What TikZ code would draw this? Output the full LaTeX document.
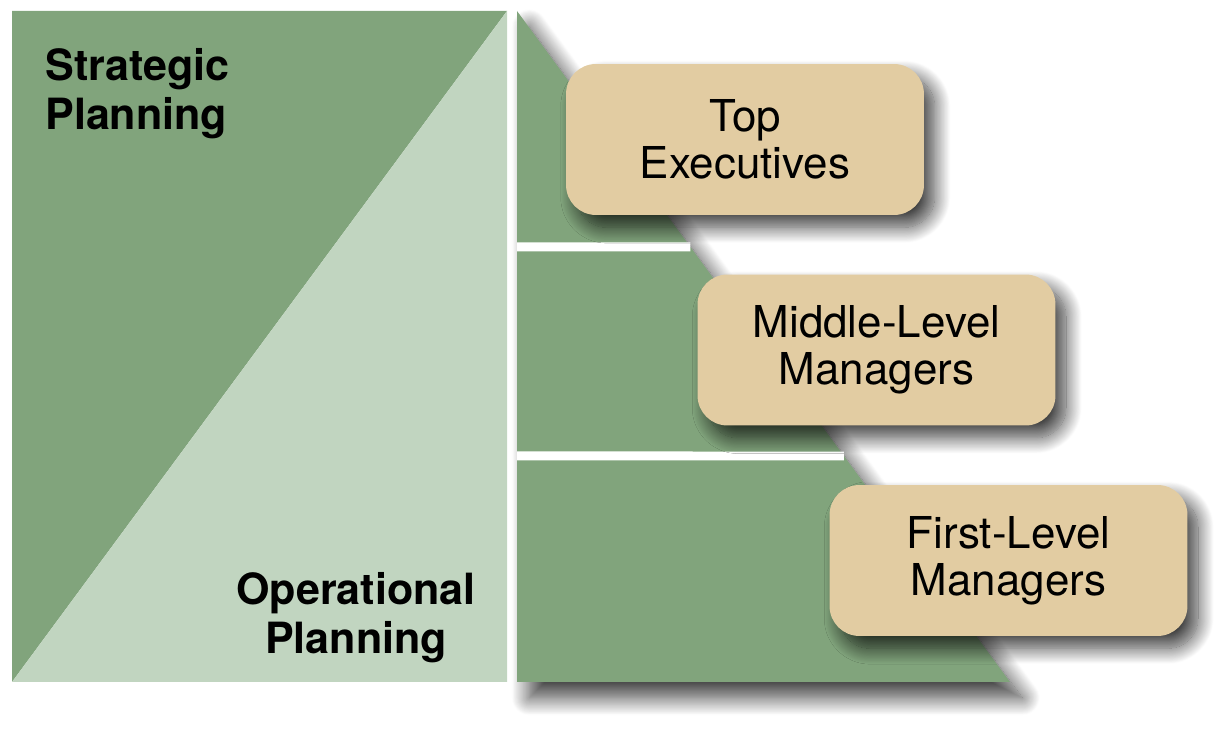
\documentclass[tikz,border=0pt]{standalone}
\usepackage{fontspec}
\setmainfont{TeX Gyre Heros}
\usepackage{tikz}
\usetikzlibrary{positioning,calc,shadows.blur}
\definecolor{darkgreen}{RGB}{129,164,124}
\definecolor{lightgreen}{RGB}{193,213,192}
\definecolor{boxtan}{RGB}{226,204,162}
\tikzset{
    %Define style for level boxes
    levelbox/.style={
           rectangle,
           rounded corners=0.6cm,
           fill=boxtan,
           minimum width=7.16cm,
           minimum height=3.02cm,
           align=center,
           font=\fontsize{25}{27}\selectfont,
           blur shadow={shadow xshift=6pt, shadow yshift=-7pt,
                        shadow blur radius=9pt, shadow blur steps=20,
                        shadow opacity=75}
           },
    %Define style for planning labels
    planlabel/.style={
           inner sep=0pt,
           font=\fontsize{24.5}{28}\selectfont\bfseries
           },
    % Define style for the white gaps
    gap/.style={
           white,
           line width=0.18cm}
}
\begin{document}
\begin{tikzpicture}[x=0.02cm,y=-0.02cm]
\useasboundingbox (0,0) rectangle (1215,729);
% planning square
\coordinate (sqtl) at (12,11);
\coordinate (sqtr) at (507,11);
\coordinate (sqbl) at (12,682);
\coordinate (sqbr) at (507,682);
\fill[darkgreen] (sqtl) -- (sqtr) -- (sqbl) -- cycle;
\fill[lightgreen] (sqtr) -- (sqbr) -- (sqbl) -- cycle;
% pyramid
\coordinate (apex) at (517,11);
\coordinate (foot) at (1010,682);
\coordinate (corner) at (517,682);
\fill[darkgreen, blur shadow={shadow xshift=7pt, shadow yshift=-9pt,
     shadow blur radius=10pt, shadow blur steps=20, shadow opacity=75}]
    (apex) -- (foot) -- (corner) -- cycle;
\draw[gap] (517,247) -- ($(apex)!0.3517!(foot)$);
\draw[gap] (517,456) -- ($(apex)!0.6632!(foot)$);
% levels
\node[levelbox] (top) at (745,139.5) {Top\\Executives};
\node[levelbox] (mid) at (876.5,350) {Middle-Level\\Managers};
\node[levelbox] (first) at (1008.5,560.5) {First-Level\\Managers};
% labels
\node[planlabel, anchor=north west, align=left] (strat) at (45,48) {Strategic\\Planning};
\node[planlabel, anchor=north, align=center] (oper) at (356,572) {Operational\\Planning};
\end{tikzpicture}
\end{document}
